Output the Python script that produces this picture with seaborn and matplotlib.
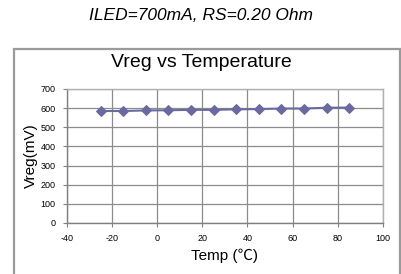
import matplotlib
matplotlib.use("Agg")
import matplotlib.pyplot as plt
import seaborn as sns
import pandas as pd
from matplotlib.patches import Rectangle

# data
temp_c = [-25, -15, -5, 5, 15, 25, 35, 45, 55, 65, 75, 85]
vreg_mv = [585, 585, 588, 589, 591, 591, 594, 595, 598, 598, 602, 603]
x_ticks = [-40, -20, 0, 20, 40, 60, 80, 100]
y_ticks = [0, 100, 200, 300, 400, 500, 600, 700]

df = pd.DataFrame({"Temp": temp_c, "Vreg": vreg_mv})

sns.set_style("white")
plt.rcParams['font.family'] = ['Liberation Sans', 'Noto Sans CJK SC', 'DejaVu Sans']
plt.rcParams['text.color'] = 'black'
plt.rcParams['axes.labelcolor'] = 'black'
plt.rcParams['axes.unicode_minus'] = False

fig = plt.figure(figsize=(4.02, 2.74), dpi=100)
fig.patch.set_facecolor("white")

# outer chart frame
fig.patches.append(Rectangle((14 / 402, -0.05), 386 / 402, 1.05 - 49 / 274,
                             transform=fig.transFigure, fill=False,
                             edgecolor="#9a9a9a", linewidth=1.6))

fig.text(0.5, 1 - 15 / 274, "ILED=700mA, RS=0.20 Ohm", ha="center", va="center",
         fontsize=12.5, style="italic")
fig.text(0.5, 1 - 62 / 274, "Vreg vs Temperature", ha="center", va="center",
         fontsize=14)

ax = fig.add_axes([66.7 / 402, 1 - 223 / 274, (383 - 66.7) / 402, (223 - 89) / 274])
sns.lineplot(data=df, x="Temp", y="Vreg", ax=ax, color="#6a6aa0", marker="D",
             markersize=5, markeredgecolor="#6a6aa0", linewidth=1.5)

ax.set_xlim(-40, 100)
ax.set_ylim(0, 700)
ax.set_xticks(x_ticks)
ax.set_yticks(y_ticks)
ax.tick_params(bottom=True, left=True, labelsize=6.5, length=3, width=0.8,
               color="#808080", labelcolor="black", pad=5)
ax.grid(True, color="#8c8c8c", linewidth=0.9)
for s in ax.spines.values():
    s.set_color("#b0b0b0")
    s.set_linewidth(1)
ax.spines["left"].set_color("#808080")
ax.spines["bottom"].set_color("#808080")
ax.set_xlabel("Temp (℃)", fontsize=11, labelpad=4)
ax.set_ylabel("Vreg(mV)", fontsize=11, labelpad=2)

fig.savefig("out.png", dpi=100)
